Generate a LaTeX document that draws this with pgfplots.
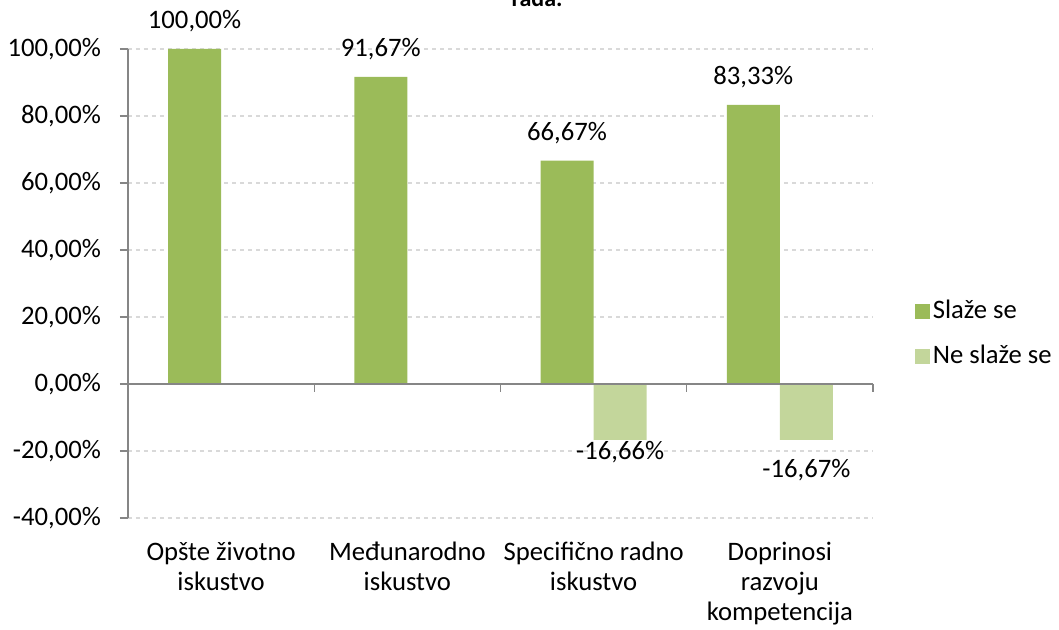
\documentclass[border=0pt]{standalone}
\usepackage{fontspec}
\setmainfont{Carlito}
\usepackage{pgfplots}
\pgfplotsset{compat=1.18}
\definecolor{g1}{HTML}{9BBB59}
\definecolor{g2}{HTML}{C3D69B}
\definecolor{axgray}{HTML}{868686}
\definecolor{gridgray}{HTML}{D9D9D9}
\begin{document}
\fontsize{20}{22.5}\selectfont
\begin{tikzpicture}
\begin{axis}[
 name=ax,
 scale only axis, width=558.75pt, height=351.75pt,
 xmin=-0.5, xmax=3.5, ymin=-40, ymax=100,
 axis x line*=bottom, axis y line*=left,
 x axis line style={draw=none},
 y axis line style={draw=axgray, line width=1pt, -},
 xtick={0,1,2,3}, major x tick style={draw=none},
 xticklabels={{Opšte životno\\iskustvo},{Međunarodno\\iskustvo},{Specifično radno\\iskustvo},{Doprinosi\\razvoju\\kompetencija}},
 xticklabel style={align=center, font=\fontsize{20}{22.5}\selectfont, yshift=-5pt},
 ytick={-40,-20,...,100},
 ytick style={draw=axgray, line width=1pt},
 tick align=outside, major tick length=6pt,
 yticklabel={\pgfmathprintnumber[fixed,fixed zerofill,precision=2,use comma]{\tick}\%},
 yticklabel style={font=\fontsize{20}{22.5}\selectfont, xshift=-7.5pt},
 /pgf/number format/assume math mode=true,
 ymajorgrids, grid style={gridgray, dashed, line width=0.8pt},
 legend style={at={(rel axis cs:1,0.392)}, anchor=west, draw=none, fill=none, xshift=28.5pt, row sep=13pt, font=\fontsize{20}{22.5}\selectfont},
 legend cell align=left,
 legend image code/.code={\fill[#1] (0pt,-5.6pt) rectangle (11.2pt,5.6pt);},
 nodes near coords={\pgfmathprintnumber[fixed,fixed zerofill,precision=2,use comma]{\pgfplotspointmeta}\%},
 every node near coord/.append style={font=\fontsize{20}{22.5}\selectfont, text=black},
 clip=false,
]
\addplot[ybar, fill=g1, draw=none, bar width=0.285, bar shift=-0.1425,
  every node near coord/.append style={anchor=center, yshift=20.6pt, xshift=-19.9pt}]
  coordinates {(0,100) (1,91.67) (2,66.67) (3,83.33)};
\addlegendentry{Slaže se}
\addplot[ybar, fill=g2, draw=none, bar width=0.285, bar shift=0.1425,
  visualization depends on={value \thisrow{off} \as \off},
  every node near coord/.append style={anchor=center, yshift=\off pt, xshift=19.9pt}]
  table[x=x,y=y]{
x y off
2 -16.66 -9
3 -16.67 -22.5
};
\addlegendentry{Ne slaže se}
\draw[axgray, line width=1pt] (axis cs:-0.5,0) -- (axis cs:3.5,0);
\pgfplotsinvokeforeach{-0.5,0.5,1.5,2.5,3.5}{\draw[axgray,line width=1pt] (axis cs:#1,0) -- ([yshift=-6pt]axis cs:#1,0);}
\end{axis}
\node[anchor=base, font=\bfseries\fontsize{18}{22}\selectfont] at ([shift={(306.75pt,31.5pt)}]ax.north west) {rada.};
\pgfresetboundingbox
\useasboundingbox ([shift={(-96pt,-84pt)}]ax.south west) rectangle ([shift={(139.5pt,36.75pt)}]ax.north east);
\end{tikzpicture}
\end{document}
